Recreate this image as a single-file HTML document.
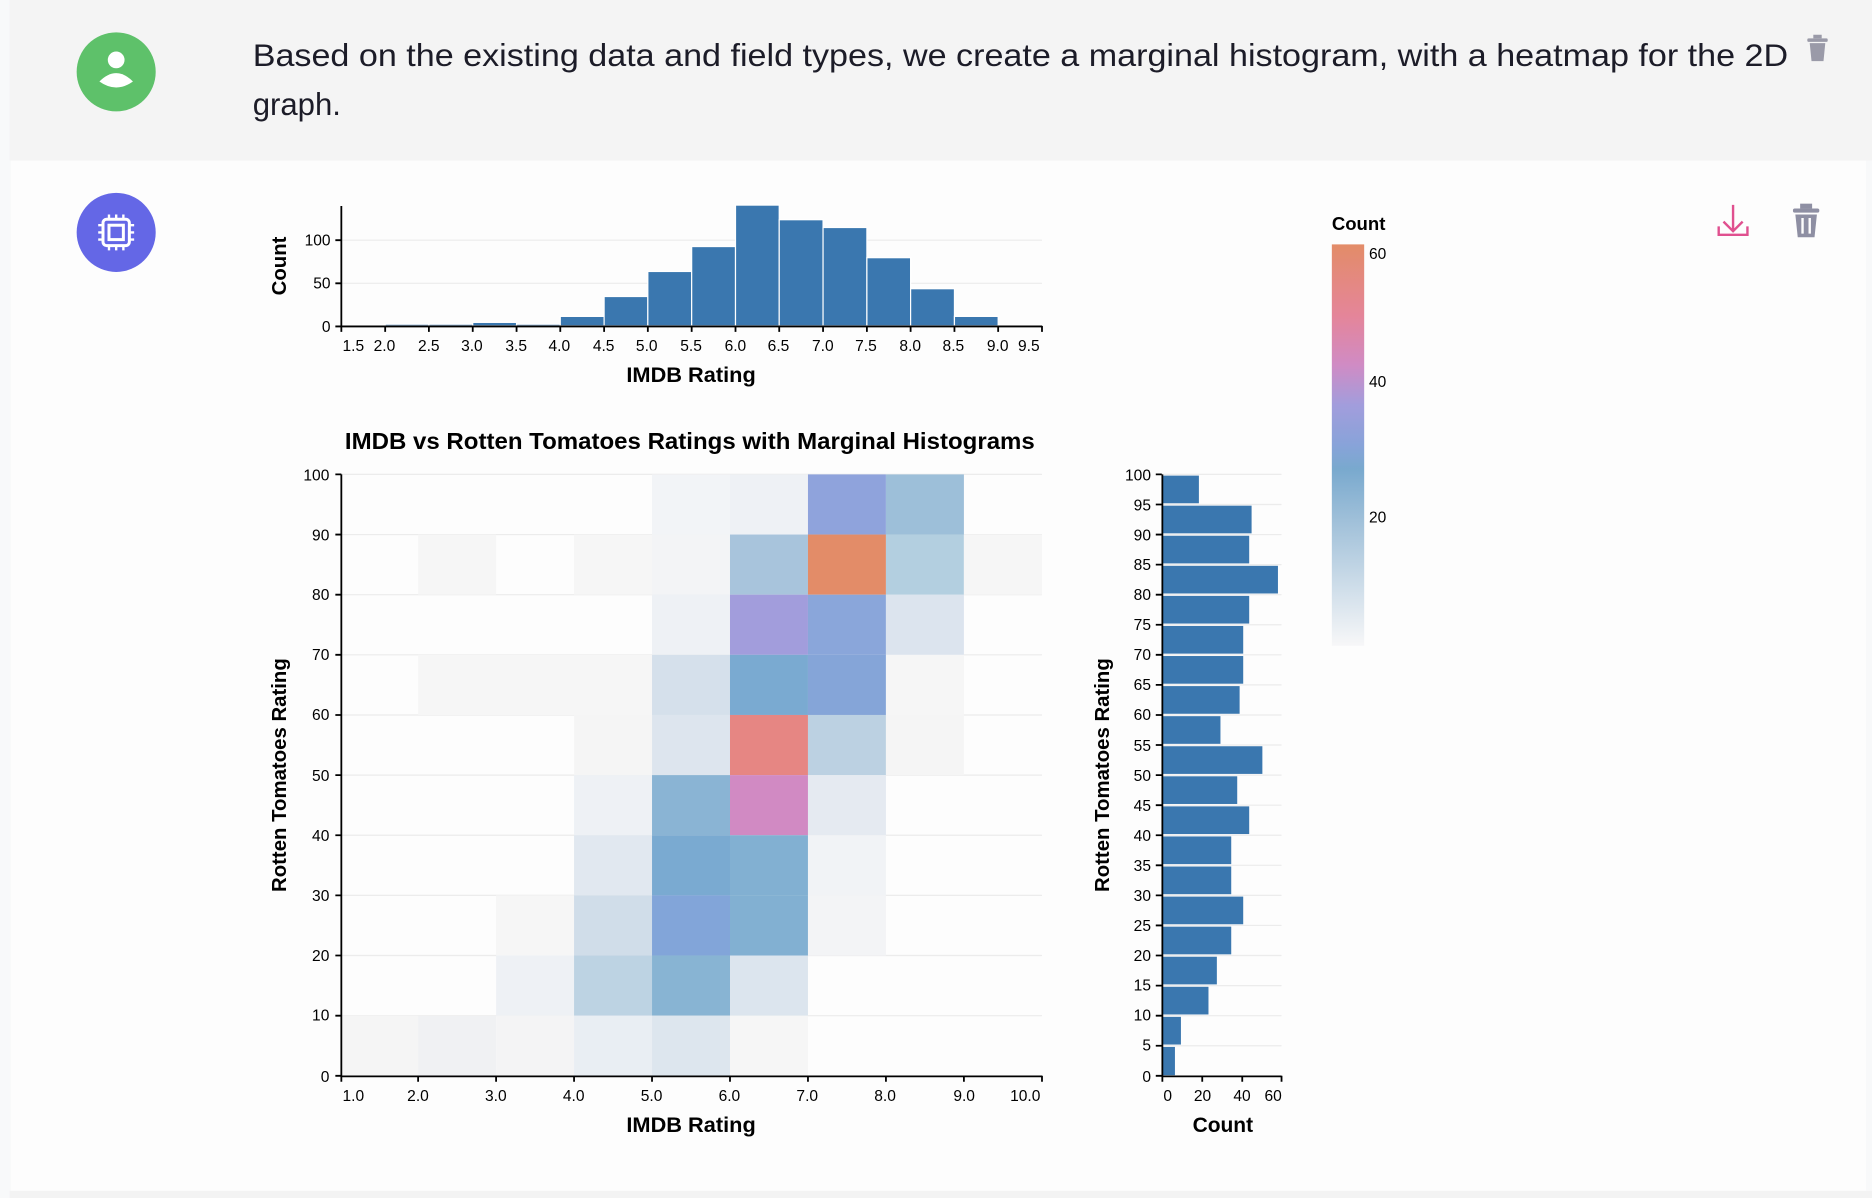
<!DOCTYPE html>
<html><head><meta charset="utf-8"><style>
html,body{margin:0;padding:0;background:#f8f9fa;}
svg{display:block;}
text{font-family:"Liberation Sans",Arial,sans-serif;}
</style></head><body>
<svg width="1872" height="1198" viewBox="0 0 1563 1000" preserveAspectRatio="none" xmlns="http://www.w3.org/2000/svg">
<defs>
<linearGradient id="g" x1="0" y1="0" x2="0" y2="1">
<stop offset="0" stop-color="#e38c68"/>
<stop offset="0.18" stop-color="#e4859a"/>
<stop offset="0.3" stop-color="#d08bc4"/>
<stop offset="0.4" stop-color="#a29ddc"/>
<stop offset="0.5" stop-color="#88a3d9"/>
<stop offset="0.56" stop-color="#79a9ce"/>
<stop offset="0.7" stop-color="#a3c2da"/>
<stop offset="1" stop-color="#f7f7f8"/>
</linearGradient>
</defs>
<rect x="0" y="0" width="1563" height="1000" fill="#f8f9fa"/>
<rect x="8" y="0" width="1555" height="134" fill="#f4f4f4"/>
<rect x="9" y="134" width="1549" height="860" fill="#fdfdfd"/>
<rect x="8" y="994" width="1555" height="6" fill="#f3f3f3"/>

<circle cx="97" cy="60" r="33" fill="#5ec16a"/>
<circle cx="97" cy="50" r="7" fill="#fff"/>
<path d="M83 68 Q97 54 111 68 Q97 78 83 68 Z" fill="#fff"/>
<text x="211" y="55" font-size="26" fill="#1c1c28" textLength="1282" lengthAdjust="spacingAndGlyphs">Based on the existing data and field types, we create a marginal histogram, with a heatmap for the 2D</text>
<text x="211" y="96" font-size="26" fill="#1c1c28">graph.</text>
<g fill="#9a9aa8"><rect x="1509" y="32" width="17" height="3" rx="1"/><rect x="1514" y="29" width="7" height="3"/><path d="M1511 36 h13 l-1.5 15 h-10 z"/></g>

<circle cx="97" cy="194" r="33" fill="#6467e6"/>
<rect x="86" y="183" width="22" height="22" rx="3" fill="none" stroke="#fff" stroke-width="2.5"/>
<rect x="91" y="188" width="12" height="12" fill="none" stroke="#fff" stroke-width="2.5"/>
<g stroke="#fff" stroke-width="2"><path d="M91 179v4M97 179v4M103 179v4M91 205v4M97 205v4M103 205v4M82 188h4M82 194h4M82 200h4M108 188h4M108 194h4M108 200h4"/></g>

<g stroke="#e0508f" stroke-width="2" fill="none"><path d="M1447 171v22M1439 185l8 8 8-8M1435 189v7h24v-7"/></g>
<g fill="#8e8fa3"><rect x="1497" y="174" width="22" height="3.5" rx="1.5"/><rect x="1503" y="170" width="10" height="4"/><path d="M1499 179 h18 l-2 19 h-14 z"/></g>
<g stroke="#fdfdfd" stroke-width="2"><path d="M1505 182v13M1511 182v13"/></g>

<g stroke="#ececec" stroke-width="1"><path d="M285 200.5H870M285 236.5H870"/></g>
<g fill="#3a77af" stroke="#fff" stroke-width="1">
<rect x="285" y="271.3" width="36.6" height="0.7"/>
<rect x="321.6" y="270.6" width="36.5" height="1.4"/>
<rect x="358.1" y="270.6" width="36.6" height="1.4"/>
<rect x="394.7" y="269.1" width="36.6" height="2.9"/>
<rect x="431.3" y="270.6" width="36.5" height="1.4"/>
<rect x="467.8" y="264.1" width="36.6" height="7.9"/>
<rect x="504.4" y="247.5" width="36.5" height="24.5"/>
<rect x="540.9" y="226.6" width="36.6" height="45.4"/>
<rect x="577.5" y="205.8" width="36.6" height="66.2"/>
<rect x="614.1" y="171.2" width="36.5" height="100.8"/>
<rect x="650.6" y="183.4" width="36.6" height="88.6"/>
<rect x="687.2" y="189.9" width="36.6" height="82.1"/>
<rect x="723.8" y="215.1" width="36.5" height="56.9"/>
<rect x="760.3" y="241" width="36.6" height="31"/>
<rect x="796.9" y="264.1" width="36.5" height="7.9"/>
<rect x="833.4" y="271.3" width="36.6" height="0.7"/>
</g>
<g stroke="#000" stroke-width="1.5" fill="none">
<path d="M285 172V272.5H870"/>
<path d="M280 272.5h5M280 236.5h5M280 200.5h5"/>
<path d="M285 272v5M321.6 272v5M358.1 272v5M394.7 272v5M431.3 272v5M467.8 272v5M504.4 272v5M540.9 272v5M577.5 272v5M614.1 272v5M650.6 272v5M687.2 272v5M723.8 272v5M760.3 272v5M796.9 272v5M833.4 272v5M870 272v5"/>
</g>
<g font-size="13" fill="#000" text-anchor="end"><text x="276" y="277">0</text><text x="276" y="241">50</text><text x="276" y="205">100</text></g>
<g font-size="13" fill="#000" text-anchor="middle">
<text x="295" y="293">1.5</text><text x="321" y="293">2.0</text><text x="358" y="293">2.5</text><text x="394" y="293">3.0</text><text x="431" y="293">3.5</text><text x="467" y="293">4.0</text><text x="504" y="293">4.5</text><text x="540" y="293">5.0</text><text x="577" y="293">5.5</text><text x="614" y="293">6.0</text><text x="650" y="293">6.5</text><text x="687" y="293">7.0</text><text x="723" y="293">7.5</text><text x="760" y="293">8.0</text><text x="796" y="293">8.5</text><text x="833" y="293">9.0</text><text x="859" y="293">9.5</text>
</g>
<text x="577" y="319" font-size="17.5" font-weight="bold" text-anchor="middle" textLength="108" lengthAdjust="spacingAndGlyphs">IMDB Rating</text>
<text transform="translate(239,222) rotate(-90)" font-size="17" font-weight="bold" text-anchor="middle">Count</text>

<text x="576" y="375" font-size="19" font-weight="bold" text-anchor="middle" textLength="576" lengthAdjust="spacingAndGlyphs">IMDB vs Rotten Tomatoes Ratings with Marginal Histograms</text>

<g stroke="#ececec" stroke-width="1"><path d="M285 396H870M285 446.2H870M285 496.4H870M285 546.6H870M285 596.8H870M285 647H870M285 697.2H870M285 747.4H870M285 797.6H870M285 847.8H870"/></g>
<g>
<rect x="544.4" y="396" width="65.1" height="50.2" fill="#f2f4f7"/>
<rect x="609.5" y="396" width="65.1" height="50.2" fill="#eef1f5"/>
<rect x="674.6" y="396" width="65.1" height="50.2" fill="#8fa3dc"/>
<rect x="739.7" y="396" width="65.1" height="50.2" fill="#9dbfd9"/>
<rect x="349.1" y="446.2" width="65.1" height="50.2" fill="#f6f6f6"/>
<rect x="479.3" y="446.2" width="65.1" height="50.2" fill="#f6f6f6"/>
<rect x="544.4" y="446.2" width="65.1" height="50.2" fill="#f3f4f6"/>
<rect x="609.5" y="446.2" width="65.1" height="50.2" fill="#a8c4dc"/>
<rect x="674.6" y="446.2" width="65.1" height="50.2" fill="#e38c68"/>
<rect x="739.7" y="446.2" width="65.1" height="50.2" fill="#b3cfe0"/>
<rect x="804.8" y="446.2" width="65.2" height="50.2" fill="#f6f6f6"/>
<rect x="544.4" y="496.4" width="65.1" height="50.2" fill="#eef1f5"/>
<rect x="609.5" y="496.4" width="65.1" height="50.2" fill="#a29ddc"/>
<rect x="674.6" y="496.4" width="65.1" height="50.2" fill="#8aa6da"/>
<rect x="739.7" y="496.4" width="65.1" height="50.2" fill="#dce4ee"/>
<rect x="349.1" y="546.6" width="195.3" height="50.2" fill="#f6f6f6"/>
<rect x="544.4" y="546.6" width="65.1" height="50.2" fill="#d5e0eb"/>
<rect x="609.5" y="546.6" width="65.1" height="50.2" fill="#7aaad1"/>
<rect x="674.6" y="546.6" width="65.1" height="50.2" fill="#85a5d8"/>
<rect x="739.7" y="546.6" width="65.1" height="50.2" fill="#f6f6f6"/>
<rect x="479.3" y="596.8" width="65.1" height="50.2" fill="#f5f5f5"/>
<rect x="544.4" y="596.8" width="65.1" height="50.2" fill="#dde5ee"/>
<rect x="609.5" y="596.8" width="65.1" height="50.2" fill="#e68683"/>
<rect x="674.6" y="596.8" width="65.1" height="50.2" fill="#bcd1e2"/>
<rect x="739.7" y="596.8" width="65.1" height="50.2" fill="#f5f5f5"/>
<rect x="479.3" y="647" width="65.1" height="50.2" fill="#eef1f5"/>
<rect x="544.4" y="647" width="65.1" height="50.2" fill="#8ab4d4"/>
<rect x="609.5" y="647" width="65.1" height="50.2" fill="#d18ac3"/>
<rect x="674.6" y="647" width="65.1" height="50.2" fill="#e5eaf1"/>
<rect x="479.3" y="697.2" width="65.1" height="50.2" fill="#e1e8f0"/>
<rect x="544.4" y="697.2" width="65.1" height="50.2" fill="#7aaad1"/>
<rect x="609.5" y="697.2" width="65.1" height="50.2" fill="#82b0d2"/>
<rect x="674.6" y="697.2" width="65.1" height="50.2" fill="#f1f3f6"/>
<rect x="414.2" y="747.4" width="65.1" height="50.2" fill="#f6f6f6"/>
<rect x="479.3" y="747.4" width="65.1" height="50.2" fill="#d0dde9"/>
<rect x="544.4" y="747.4" width="65.1" height="50.2" fill="#82a5d9"/>
<rect x="609.5" y="747.4" width="65.1" height="50.2" fill="#82b0d2"/>
<rect x="674.6" y="747.4" width="65.1" height="50.2" fill="#f3f4f6"/>
<rect x="414.2" y="797.6" width="65.1" height="50.2" fill="#eef1f5"/>
<rect x="479.3" y="797.6" width="65.1" height="50.2" fill="#bdd3e3"/>
<rect x="544.4" y="797.6" width="65.1" height="50.2" fill="#88b4d3"/>
<rect x="609.5" y="797.6" width="65.1" height="50.2" fill="#dce5ee"/>
<rect x="285" y="847.8" width="64.1" height="50.2" fill="#f5f5f5"/>
<rect x="349.1" y="847.8" width="65.1" height="50.2" fill="#f0f1f3"/>
<rect x="414.2" y="847.8" width="65.1" height="50.2" fill="#f4f4f5"/>
<rect x="479.3" y="847.8" width="65.1" height="50.2" fill="#e9eef3"/>
<rect x="544.4" y="847.8" width="65.1" height="50.2" fill="#dde6ee"/>
<rect x="609.5" y="847.8" width="65.1" height="50.2" fill="#f6f6f6"/>
</g>
<g stroke="#000" stroke-width="1.5" fill="none">
<path d="M285 396V898.5H870"/>
<path d="M280 396h5M280 446.2h5M280 496.4h5M280 546.6h5M280 596.8h5M280 647h5M280 697.2h5M280 747.4h5M280 797.6h5M280 847.8h5M280 898h5"/>
<path d="M285 898v5M349.1 898v5M414.2 898v5M479.3 898v5M544.4 898v5M609.5 898v5M674.6 898v5M739.7 898v5M804.8 898v5M870 898v5"/>
</g>
<g font-size="13" fill="#000" text-anchor="end">
<text x="275" y="401">100</text><text x="275" y="451">90</text><text x="275" y="501">80</text><text x="275" y="551">70</text><text x="275" y="601">60</text><text x="275" y="652">50</text><text x="275" y="702">40</text><text x="275" y="752">30</text><text x="275" y="802">20</text><text x="275" y="852">10</text><text x="275" y="903">0</text>
</g>
<g font-size="13" fill="#000" text-anchor="middle">
<text x="295" y="919">1.0</text><text x="349" y="919">2.0</text><text x="414" y="919">3.0</text><text x="479" y="919">4.0</text><text x="544" y="919">5.0</text><text x="609" y="919">6.0</text><text x="674" y="919">7.0</text><text x="739" y="919">8.0</text><text x="805" y="919">9.0</text><text x="856" y="919">10.0</text>
</g>
<text x="577" y="945" font-size="17.5" font-weight="bold" text-anchor="middle" textLength="108" lengthAdjust="spacingAndGlyphs">IMDB Rating</text>
<text transform="translate(239,647) rotate(-90)" font-size="17" font-weight="bold" text-anchor="middle">Rotten Tomatoes Rating</text>

<g stroke="#ececec" stroke-width="1"><path d="M970 396H1070M970 421.1H1070M970 446.2H1070M970 471.3H1070M970 496.4H1070M970 521.5H1070M970 546.6H1070M970 571.7H1070M970 596.8H1070M970 621.9H1070M970 647H1070M970 672.1H1070M970 697.2H1070M970 722.3H1070M970 747.4H1070M970 772.5H1070M970 797.6H1070M970 822.7H1070M970 847.8H1070M970 872.9H1070"/></g>
<g fill="#3a77af">
<rect x="970" y="397" width="31" height="23.1"/>
<rect x="970" y="422.1" width="75" height="23.1"/>
<rect x="970" y="447.2" width="73" height="23.1"/>
<rect x="970" y="472.3" width="97" height="23.1"/>
<rect x="970" y="497.4" width="73" height="23.1"/>
<rect x="970" y="522.5" width="68" height="23.1"/>
<rect x="970" y="547.6" width="68" height="23.1"/>
<rect x="970" y="572.7" width="65" height="23.1"/>
<rect x="970" y="597.8" width="49" height="23.1"/>
<rect x="970" y="622.9" width="84" height="23.1"/>
<rect x="970" y="648" width="63" height="23.1"/>
<rect x="970" y="673.1" width="73" height="23.1"/>
<rect x="970" y="698.2" width="58" height="23.1"/>
<rect x="970" y="723.3" width="58" height="23.1"/>
<rect x="970" y="748.4" width="68" height="23.1"/>
<rect x="970" y="773.5" width="58" height="23.1"/>
<rect x="970" y="798.6" width="46" height="23.1"/>
<rect x="970" y="823.7" width="39" height="23.1"/>
<rect x="970" y="848.8" width="16" height="23.1"/>
<rect x="970" y="873.9" width="11" height="23.6"/>
</g>
<g stroke="#000" stroke-width="1.5" fill="none">
<path d="M970.5 396V898.5H1070"/>
<path d="M965 396h5M965 421.1h5M965 446.2h5M965 471.3h5M965 496.4h5M965 521.5h5M965 546.6h5M965 571.7h5M965 596.8h5M965 621.9h5M965 647h5M965 672.1h5M965 697.2h5M965 722.3h5M965 747.4h5M965 772.5h5M965 797.6h5M965 822.7h5M965 847.8h5M965 872.9h5M965 898h5"/>
<path d="M970.5 898v5M1003.8 898v5M1037.2 898v5M1070 898v5"/>
</g>
<g font-size="13" fill="#000" text-anchor="end">
<text x="961" y="401">100</text><text x="961" y="426">95</text><text x="961" y="451">90</text><text x="961" y="476">85</text><text x="961" y="501">80</text><text x="961" y="526">75</text><text x="961" y="551">70</text><text x="961" y="576">65</text><text x="961" y="601">60</text><text x="961" y="627">55</text><text x="961" y="652">50</text><text x="961" y="677">45</text><text x="961" y="702">40</text><text x="961" y="727">35</text><text x="961" y="752">30</text><text x="961" y="777">25</text><text x="961" y="802">20</text><text x="961" y="827">15</text><text x="961" y="852">10</text><text x="961" y="877">5</text><text x="961" y="903">0</text>
</g>
<g font-size="13" fill="#000" text-anchor="middle"><text x="975" y="919">0</text><text x="1004" y="919">20</text><text x="1037" y="919">40</text><text x="1063" y="919">60</text></g>
<text x="1021" y="945" font-size="17.5" font-weight="bold" text-anchor="middle">Count</text>
<text transform="translate(926,647) rotate(-90)" font-size="17" font-weight="bold" text-anchor="middle">Rotten Tomatoes Rating</text>

<text x="1112" y="192" font-size="15.5" font-weight="bold">Count</text>
<rect x="1112" y="204" width="27" height="335" fill="url(#g)"/>
<g font-size="13" fill="#000"><text x="1143" y="216">60</text><text x="1143" y="323">40</text><text x="1143" y="436">20</text></g>
</svg>
</body></html>
